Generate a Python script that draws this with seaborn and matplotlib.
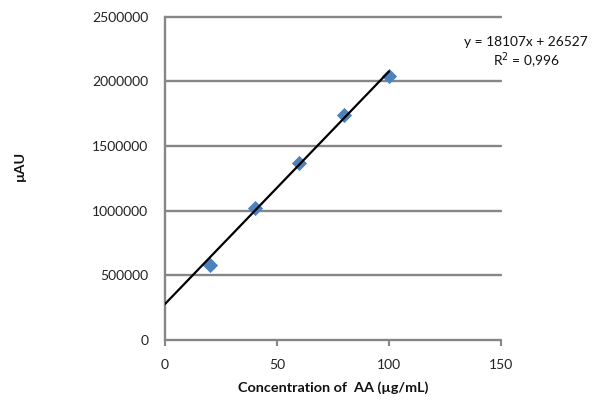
import pandas as pd
import matplotlib
matplotlib.use('Agg')
import matplotlib.pyplot as plt
import seaborn as sns

# calibration points
conc = [20, 40, 60, 80, 100]
signal = [581000, 1023000, 1372000, 1744000, 2039000]

# trendline as drawn (end points)
trend_x = [0, 100]
trend_y = [279000, 2078000]

x_ticks = [0, 50, 100, 150]
y_ticks = [0, 500000, 1000000, 1500000, 2000000, 2500000]

sns.set_style('white')
plt.rcParams['font.family'] = ['Lato', 'DejaVu Sans']

fig = plt.figure(figsize=(5.99, 4.01), dpi=100)
ax = fig.add_axes([0.2755, 0.152, 0.561, 0.806])

grid_col = '#868686'
for v in y_ticks:
    ax.axhline(v, color=grid_col, lw=1.7, zorder=1, clip_on=False)

df = pd.DataFrame({'conc': conc, 'signal': signal})
sns.scatterplot(data=df, x='conc', y='signal', marker='D', s=60,
                color='#4F81BD', edgecolor='#4F81BD', linewidth=0, zorder=3, ax=ax)
sns.lineplot(x=trend_x, y=trend_y, color='black', lw=1.6, zorder=4, ax=ax)

ax.set_xlim(0, 150)
ax.set_ylim(0, 2500000)
ax.set_xticks(x_ticks)
ax.set_yticks(y_ticks)
ax.set_yticklabels([str(v) for v in y_ticks])

for s in ['top', 'right', 'bottom']:
    ax.spines[s].set_visible(False)
ax.spines['left'].set_color(grid_col)
ax.spines['left'].set_linewidth(1.7)
ax.spines['left'].set_zorder(2)

ax.tick_params(axis='y', direction='out', length=4, width=1.5, color=grid_col,
               labelsize=10, labelcolor='#222222', pad=8)
ax.tick_params(axis='x', direction='out', length=4, width=1.5, color=grid_col,
               labelsize=10, labelcolor='#222222', pad=10, bottom=True)

ax.set_xlabel('Concentration of  AA (µg/mL)', fontsize=10.4, fontweight='bold',
              color='#111111', labelpad=7)
ax.set_ylabel('µAU', fontsize=10.4, fontweight='bold', color='#111111')
ax.yaxis.set_label_coords(-0.415, 0.54)

fig.text(526 / 599, 1 - 42 / 401, 'y = 18107x + 26527', ha='center', va='center',
         fontsize=9.9, color='#111111')
fig.text(526 / 599, 1 - 61 / 401, 'R$^2$ = 0,996', ha='center', va='center',
         fontsize=9.9, color='#111111')

fig.savefig('out.png', dpi=100)
